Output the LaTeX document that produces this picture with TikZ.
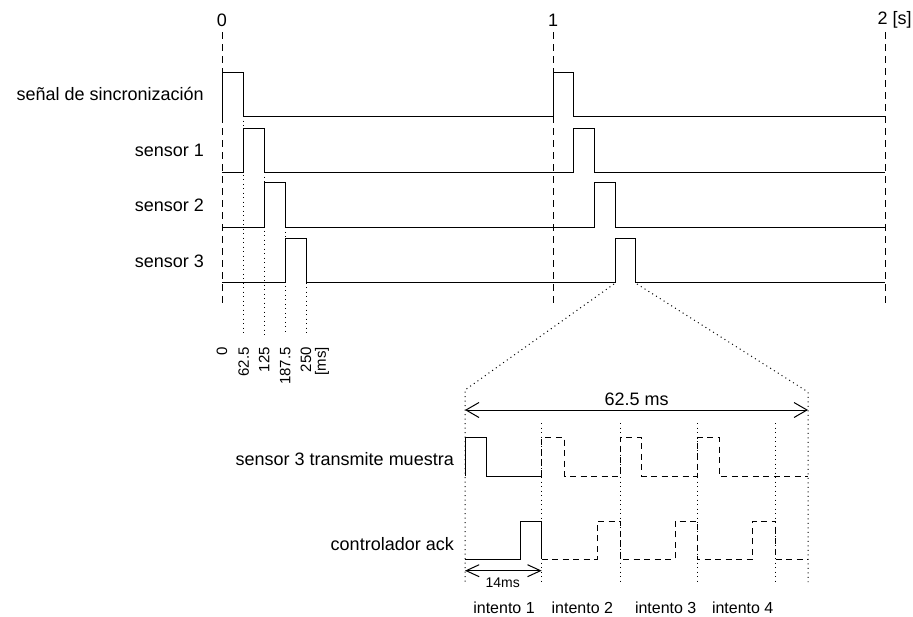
\documentclass[tikz,border=0pt]{standalone}
\usepackage{fontspec}
\setmainfont{Liberation Sans}
\usetikzlibrary{arrows.meta}
\begin{document}
\begin{tikzpicture}[x=1pt,y=-1pt,
  sig/.style={line width=1pt, line join=miter},
  dsig/.style={line width=1pt, dash pattern=on 6pt off 4.5pt},
  vgrid/.style={line width=1pt, dash pattern=on 7pt off 5pt},
  dots/.style={line width=1pt, dash pattern=on 1pt off 3.5pt},
  lbl/.style={font=\fontsize{18}{20}\selectfont, inner sep=0pt},
  smlbl/.style={font=\fontsize{14}{16}\selectfont, inner sep=0pt},
  mslbl/.style={font=\fontsize{15}{17}\selectfont, inner sep=0pt, rotate=90, anchor=east},
  intlbl/.style={font=\fontsize{16}{18}\selectfont, inner sep=0pt},
  dimbig/.style={line width=1pt, {Straight Barb[length=13pt,width=15pt]}-{Straight Barb[length=13pt,width=15pt]}},
  dimsmall/.style={line width=1pt, {Straight Barb[length=13pt,width=12pt]}-{Straight Barb[length=13pt,width=12pt]}}
]
\useasboundingbox (0,0) rectangle (913,616);

% time axis labels
\node[lbl] (t0) at (222,20) {0};
\node[lbl] (t1) at (553,20) {1};
\node[lbl, anchor=west] (t2) at (877.5,20) {2 [s]};

% vertical dashed second markers
\draw[vgrid] (222,32) -- (222,305);
\draw[vgrid] (553,32) -- (553,305);
\draw[vgrid] (885,32) -- (885,305);

% row labels
\node[lbl, anchor=east] (lsync) at (204,94) {señal de sincronización};
\node[lbl, anchor=east] (ls1) at (204,150) {sensor 1};
\node[lbl, anchor=east] (ls2) at (204,205.5) {sensor 2};
\node[lbl, anchor=east] (ls3) at (204,261) {sensor 3};

% signals
\draw[sig] (222,116) -- (222,72) -- (243.7,72) -- (243.7,116) -- (553,116) -- (553,72) -- (573.7,72) -- (573.7,116) -- (885,116);
\draw[sig] (222,172) -- (243.7,172) -- (243.7,128) -- (264.3,128) -- (264.3,172) -- (573.7,172) -- (573.7,128) -- (594.4,128) -- (594.4,172) -- (885,172);
\draw[sig] (222,227.3) -- (264.3,227.3) -- (264.3,182.7) -- (285.3,182.7) -- (285.3,227.3) -- (594.4,227.3) -- (594.4,182.7) -- (615.1,182.7) -- (615.1,227.3) -- (885,227.3);
\draw[sig] (222,282.7) -- (285.3,282.7) -- (285.3,238.3) -- (306,238.3) -- (306,282.7) -- (615.1,282.7) -- (615.1,238.3) -- (635.8,238.3) -- (635.8,282.7) -- (885,282.7);

% ms dotted markers
\draw[dots] (243.7,116) -- (243.7,335);
\draw[dots] (264.3,172) -- (264.3,335);
\draw[dots] (285.3,227.3) -- (285.3,335);
\draw[dots] (306,282.7) -- (306,335);

\node[mslbl] (m0) at (222,347) {0};
\node[mslbl] (m1) at (243.7,347) {62.5};
\node[mslbl] (m2) at (264.3,347) {125};
\node[mslbl] (m3) at (285.3,347) {187.5};
\node[mslbl] (m4) at (306,347) {250};
\node[mslbl] (m5) at (322,347) {[ms]};

% zoom projection
\draw[dots] (614,284) -- (465,390) -- (465,582);
\draw[dots] (637,284) -- (808,392) -- (808,582);
\foreach \x in {541.7,620,697.3,775.3} \draw[dots] (\x,423) -- (\x,582);

% 62.5 ms dimension
\coordinate (zl) at (465,410);
\coordinate (zr) at (808,410);
\draw[dimbig] (zl) -- (zr);
\node[lbl] (z625) at (636.7,399) {62.5 ms};

% lower row labels
\node[lbl, anchor=east] (ltx) at (454,459) {sensor 3 transmite muestra};
\node[lbl, anchor=east] (lack) at (454,544) {controlador ack};

% sensor 3 transmits
\draw[sig] (465,476) -- (465,437.7) -- (486.7,437.7) -- (486.7,476) -- (541.7,476);
\draw[dsig] (541.7,476) -- (541.7,437.7) -- (564.5,437.7) -- (564.5,476) -- (620,476) -- (620,437.7) -- (641.7,437.7) -- (641.7,476) -- (697.3,476) -- (697.3,437.7) -- (719.3,437.7) -- (719.3,476) -- (808,476);

% controller ack
\draw[sig] (465,559) -- (520,559) -- (520,521) -- (541.7,521) -- (541.7,559);
\draw[dsig] (541.7,559) -- (597.3,559) -- (597.3,521) -- (620,521) -- (620,559) -- (675,559) -- (675,521) -- (697.3,521) -- (697.3,559) -- (752.7,559) -- (752.7,521) -- (775.3,521) -- (775.3,559) -- (808,559);

% 14 ms dimension
\coordinate (al) at (465,570.7);
\coordinate (ar) at (541.7,570.7);
\draw[dimsmall] (al) -- (ar);
\node[smlbl] (d14) at (502.7,583) {14ms};

% attempts
\node[intlbl] (i1) at (504,607.5) {intento 1};
\node[intlbl] (i2) at (582.3,607.5) {intento 2};
\node[intlbl] (i3) at (665.7,607.5) {intento 3};
\node[intlbl] (i4) at (742.7,607.5) {intento 4};
\end{tikzpicture}
\end{document}
